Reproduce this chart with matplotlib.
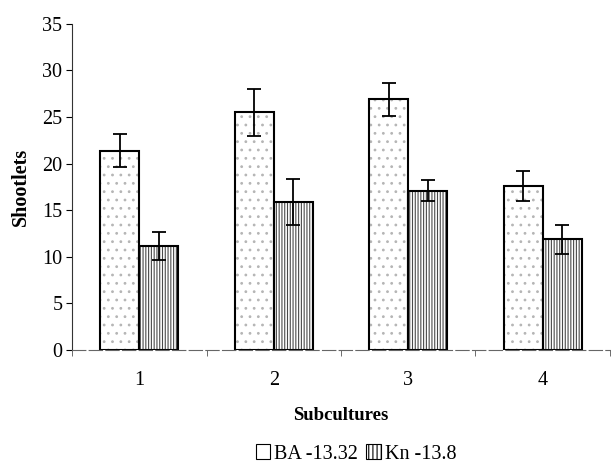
import matplotlib.pyplot as plt
import numpy as np
from matplotlib.patches import Patch

subcultures = ['1', '2', '3', '4']
ba_values = [21.4, 25.5, 26.9, 17.6]
ba_errors = [1.8, 2.5, 1.8, 1.65]
kn_values = [11.2, 15.9, 17.1, 11.9]
kn_errors = [1.5, 2.5, 1.1, 1.55]
series_labels = ['BA -13.32', 'Kn -13.8']

plt.rcParams['font.family'] = 'Liberation Serif'
plt.rcParams['hatch.linewidth'] = 0.8

fig = plt.figure(figsize=(6.11, 4.68), dpi=100)
ax = fig.add_axes([0.118, 0.252, 0.88, 0.697])

x = np.arange(len(subcultures))
w = 0.29

# hatch layer first, then outline on top
ax.bar(x - w / 2, ba_values, w, color='white', edgecolor='#b5b5b5', hatch='..', linewidth=0)
ax.bar(x + w / 2, kn_values, w, color='white', edgecolor='#4a4a4a', hatch='||||||', linewidth=0)
ax.bar(x - w / 2, ba_values, w, fill=False, edgecolor='black', linewidth=1.5)
ax.bar(x + w / 2, kn_values, w, fill=False, edgecolor='black', linewidth=1.5)

ax.errorbar(x - w / 2, ba_values, yerr=ba_errors, fmt='none', ecolor='black',
            elinewidth=1.3, capsize=5, capthick=1.3)
ax.errorbar(x + w / 2, kn_values, yerr=kn_errors, fmt='none', ecolor='black',
            elinewidth=1.3, capsize=5, capthick=1.3)

ax.set_xlim(-0.5, 3.5)
ax.set_ylim(0, 35)
ax.set_yticks(range(0, 36, 5))
ax.set_xticks(x)
ax.set_xticklabels(subcultures)
ax.set_xticks(np.arange(-0.5, 4.0, 1.0), minor=True)
ax.tick_params(axis='x', which='major', length=0, pad=15, labelsize=14.5)
ax.tick_params(axis='x', which='minor', length=4, direction='out', color='#555555')
ax.tick_params(axis='y', length=4, direction='out', pad=3, labelsize=14.5)

for side in ['top', 'right']:
    ax.spines[side].set_visible(False)
ax.spines['left'].set_color('#333333')
ax.spines['bottom'].set_color('#666666')
ax.spines['bottom'].set_linestyle((0, (12, 3)))

ax.set_ylabel('Shootlets', fontsize=14.5, fontweight='bold', labelpad=8)
ax.set_xlabel('Subcultures', fontsize=13.5, fontweight='bold', labelpad=12)

handles = [Patch(facecolor='white', edgecolor='black', linewidth=0.8),
           Patch(facecolor='white', edgecolor='black', hatch='||||', linewidth=0.8)]
fig.legend(handles, series_labels, loc='center', bbox_to_anchor=(0.583, 0.03), ncol=2,
           frameon=False, fontsize=14.5, handlelength=0.7, handleheight=0.7,
           handletextpad=0.2, columnspacing=0.4, borderpad=0)

fig.savefig('out.png', dpi=100)
